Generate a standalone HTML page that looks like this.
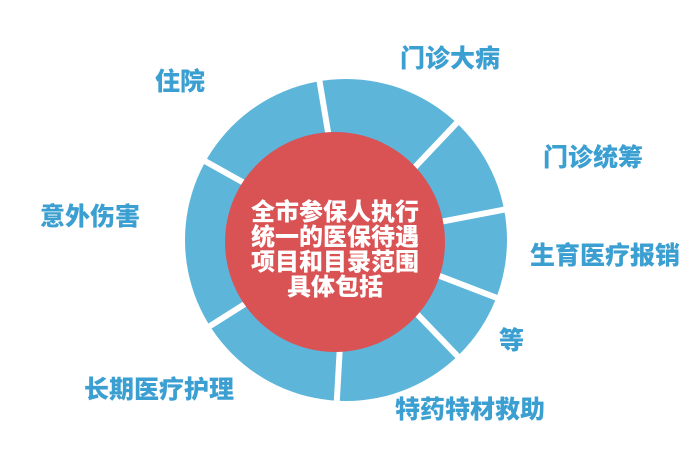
<!DOCTYPE html>
<html><head><meta charset="utf-8"><style>
body{margin:0;width:696px;height:449px;background:#fff;overflow:hidden;position:relative;font-family:"Liberation Sans","Noto Sans CJK SC",sans-serif;font-weight:bold}
.l{position:absolute;color:#3b9fd1;font-size:25px;white-space:nowrap;line-height:1;font-weight:900}
.c{position:absolute;left:235px;top:200px;width:200px;text-align:center;color:#fff;font-size:24px;line-height:25px;font-weight:900}
</style></head><body>
<svg width="696" height="449" style="position:absolute;left:0;top:0">
<circle cx="346" cy="240" r="161" fill="#5db5da"/>
<g stroke="#fff" stroke-width="6">
<line x1="346" y1="240" x2="316" y2="60"/>
<line x1="346" y1="240" x2="468" y2="111"/>
<line x1="346" y1="240" x2="518" y2="207"/>
<line x1="346" y1="240" x2="510" y2="303"/>
<line x1="346" y1="240" x2="468" y2="367"/>
<line x1="346" y1="240" x2="336" y2="415"/>
<line x1="346" y1="240" x2="180" y2="345"/>
<line x1="346" y1="240" x2="178" y2="146"/>
</g>
<circle cx="335" cy="242" r="110" fill="#d95355"/>
</svg>
<div class="c">全市参保人执行<br>统一的医保待遇<br>项目和目录范围<br>具体包括</div>
<div class="l" style="left:155px;top:70px">住院</div>
<div class="l" style="left:400px;top:47px">门诊大病</div>
<div class="l" style="left:543px;top:146px">门诊统筹</div>
<div class="l" style="left:40px;top:205px">意外伤害</div>
<div class="l" style="left:530px;top:244px">生育医疗报销</div>
<div class="l" style="left:499px;top:329px">等</div>
<div class="l" style="left:84px;top:378px">长期医疗护理</div>
<div class="l" style="left:395px;top:398px">特药特材救助</div>
</body></html>
